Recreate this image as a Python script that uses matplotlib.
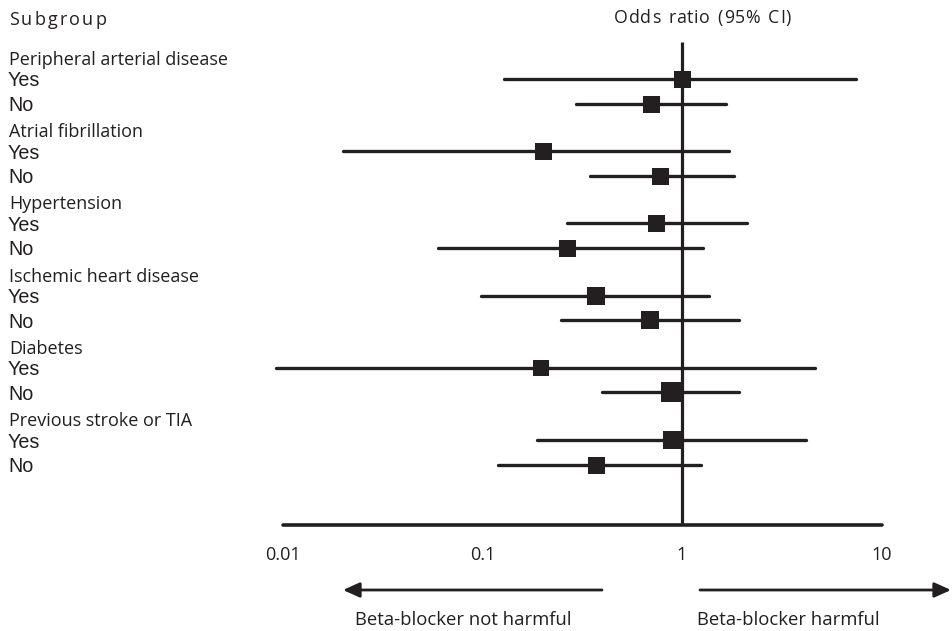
import matplotlib
matplotlib.use("Agg")
import matplotlib.pyplot as plt
import numpy as np

plt.rcParams['font.family'] = ['Open Sans', 'DejaVu Sans']

# ---------------- data ----------------
groups = ["Peripheral arterial disease", "Atrial fibrillation", "Hypertension",
          "Ischemic heart disease", "Diabetes", "Previous stroke or TIA"]
levels = ["Yes", "No"]
# odds ratio and 95% CI, ordered group by group (Yes, No)
odds_ratio = [1.00, 0.70, 0.20, 0.78, 0.74, 0.265, 0.37, 0.69, 0.196, 0.88, 0.89, 0.37]
ci_low     = [0.128, 0.294, 0.020, 0.346, 0.265, 0.060, 0.098, 0.248, 0.0092, 0.396, 0.188, 0.119]
ci_high    = [7.45, 1.66, 1.72, 1.82, 2.12, 1.28, 1.36, 1.93, 4.64, 1.94, 4.19, 1.25]
tick_values = [0.01, 0.1, 1, 10]
tick_labels = ["0.01", "0.1", "1", "10"]

# ---------------- style / layout ----------------
INK = "#231f20"
W, H = 952, 631
px_per_decade = 199.5
x_one = 682.0
marker_px = [17, 17, 17, 17, 17, 17, 17.5, 17.5, 16, 20, 18, 17]

fig = plt.figure(figsize=(W / 100, H / 100), dpi=100)
ax = fig.add_axes([0, 0, 1, 1])
ax.set_xscale("log")
ax.set_xlim(10 ** (-x_one / px_per_decade), 10 ** ((W - x_one) / px_per_decade))
ax.set_ylim(H, 0)
ax.axis("off")
renderer = fig.canvas.get_renderer()


def px_to_or(px):
    return 10 ** ((px - x_one) / px_per_decade)


def tracked_text(x_px, y, s, tracking_px, **kw):
    """Draw text letter by letter with extra letter spacing (pixel units)."""
    cur = x_px
    for ch in s:
        if ch == " ":
            t = ax.text(0, 0, "n", **kw)
            w = t.get_window_extent(renderer).width * 0.55
            t.remove()
            cur += w + tracking_px
            continue
        t = ax.text(px_to_or(cur), y, ch, ha="left", va="center", **kw)
        w = t.get_window_extent(renderer).width
        cur += w + tracking_px


group_step = 72.2
first_yes = 79.0
no_offset = 24.5
header_offset = 19.0

fs = 13.0
lab_x = 9 / W  # axes fraction
trans = matplotlib.transforms.blended_transform_factory(ax.transAxes, ax.transData)

tracked_text(9, 20, "Subgroup", 2.2, fontsize=13.0, color=INK)
tracked_text(614, 18, "Odds ratio (95% CI)", 0.8, fontsize=12.8, color=INK)

rows_y = []
for gi, g in enumerate(groups):
    y_yes = first_yes + gi * group_step
    ax.text(lab_x, y_yes - header_offset, g, transform=trans, fontsize=fs,
            color=INK, va="center", ha="left")
    for li, lv in enumerate(levels):
        y = y_yes + li * no_offset
        rows_y.append(y)
        ax.text(lab_x - 1 / W, y + 2, lv, transform=trans, fontsize=14.2,
                family="Liberation Sans", color=INK, va="center", ha="left")

# reference line at OR = 1
axis_y = 524.5
ax.plot([1, 1], [42, axis_y], color=INK, lw=2.3, solid_capstyle="butt", zorder=2)

# CIs and point estimates
for i, y in enumerate(rows_y):
    ax.plot([ci_low[i], ci_high[i]], [y, y], color=INK, lw=2.4,
            solid_capstyle="round", zorder=3)
    ax.plot([odds_ratio[i]], [y], marker="s", linestyle="none",
            markersize=marker_px[i] * 0.72, color=INK, mec=INK, mew=0, zorder=4)

# x axis
ax.plot([tick_values[0], tick_values[-1]], [axis_y, axis_y], color=INK, lw=2.6,
        solid_capstyle="round", zorder=2)
for v, t in zip(tick_values, tick_labels):
    ax.text(v, 555, t, fontsize=fs, color=INK, ha="center", va="center")

# direction arrows
arrow_kw = dict(arrowstyle="-|>,head_length=1.0,head_width=0.45", color=INK,
                lw=2.0, shrinkA=0, shrinkB=0)
ax.annotate("", xy=(px_to_or(343), 590), xytext=(px_to_or(602), 590), arrowprops=arrow_kw)
ax.annotate("", xy=(px_to_or(951), 590), xytext=(px_to_or(700), 590), arrowprops=arrow_kw)

ax.text(px_to_or(355), 620, "Beta-blocker not harmful",
        fontsize=13.3, color=INK, ha="left", va="center")
ax.text(px_to_or(697), 620, "Beta-blocker harmful",
        fontsize=13.3, color=INK, ha="left", va="center")

fig.savefig("out.png", dpi=100, facecolor="white")
